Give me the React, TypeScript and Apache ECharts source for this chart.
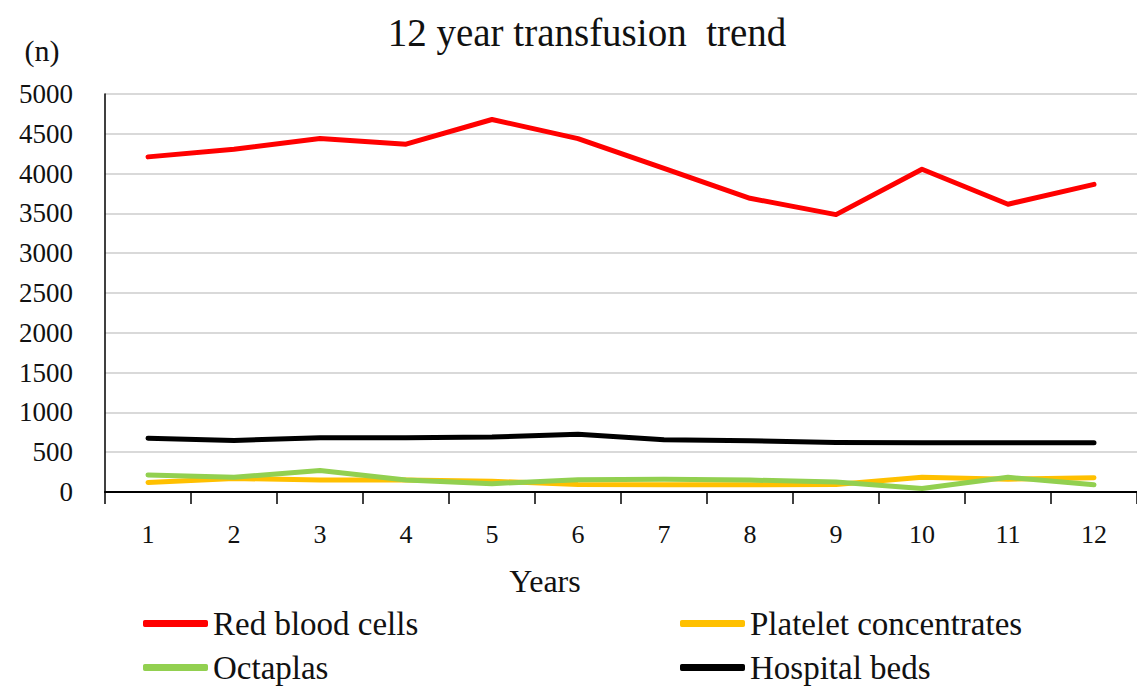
import React, { useEffect, useRef } from "react";
import * as echarts from "echarts";

const years = ["1", "2", "3", "4", "5", "6", "7", "8", "9", "10", "11", "12"];
const redBloodCells = [4210, 4305, 4440, 4370, 4680, 4440, 4065, 3690, 3485, 4055, 3615, 3865];
const plateletConcentrates = [120, 170, 150, 150, 135, 95, 90, 90, 95, 185, 160, 180];
const octaplas = [215, 185, 270, 150, 105, 155, 160, 150, 125, 45, 185, 90];
const hospitalBeds = [675, 648, 683, 683, 690, 725, 655, 645, 622, 620, 620, 620];
const yTicks = { min: 0, max: 5000, interval: 500 };
const legendNames = ["Red blood cells", "Octaplas", "Platelet concentrates", "Hospital beds"];

const FONT = "'Liberation Serif', 'Times New Roman', serif";

export default function App() {
  const ref = useRef<HTMLDivElement>(null);
  useEffect(() => {
    if (!ref.current) return;
    const chart = echarts.init(ref.current, undefined, { renderer: "svg" });
    const lineSeries = (name: string, data: number[], color: string) => ({
      name,
      type: "line",
      data,
      showSymbol: false,
      symbol: "none",
      lineStyle: { color, width: 5, cap: "round", join: "round" },
      itemStyle: { color },
    });
    const legendPos = [
      [143, 624],
      [143, 668],
      [680, 624],
      [680, 668],
    ];
    const legendItem = (name: string, i: number) => ({
      orient: "horizontal",
      left: legendPos[i][0],
      top: legendPos[i][1] - 4,
      padding: 0,
      itemWidth: 65,
      itemHeight: 7,
      icon: "roundRect",
      formatter: () => "",
      data: [name],
      textStyle: { fontSize: 1 },
    });
    const legendLabel = (name: string, i: number) => ({
      type: "text",
      x: legendPos[i][0] + 70,
      y: legendPos[i][1],
      style: {
        text: name,
        font: `33px ${FONT}`,
        fill: "#111",
        textAlign: "left",
        textVerticalAlign: "middle",
      },
    });
    chart.setOption({
      animation: false,
      backgroundColor: "#ffffff",
      textStyle: { fontFamily: FONT },
      grid: { left: 105, top: 94, width: 1044, height: 398 },
      xAxis: {
        type: "category",
        data: years,
        boundaryGap: true,
        axisLine: { show: true, lineStyle: { color: "#000", width: 2 } },
        axisTick: { show: true, length: 12, lineStyle: { color: "#000", width: 1.5 } },
        axisLabel: { fontFamily: FONT, fontSize: 26, color: "#111", margin: 29 },
        splitLine: { show: false },
      },
      yAxis: {
        type: "value",
        min: yTicks.min,
        max: yTicks.max,
        interval: yTicks.interval,
        axisLine: { show: true, lineStyle: { color: "#000", width: 1.5 } },
        axisTick: { show: false },
        axisLabel: {
          fontFamily: FONT,
          fontSize: 27,
          color: "#111",
          margin: 32,
          formatter: (v: number) => String(v),
        },
        splitLine: { show: true, lineStyle: { color: "#d9d9d9", width: 2 } },
      },
      legend: legendNames.map((n, i) => legendItem(n, i)),
      graphic: [
        {
          type: "text",
          x: 587,
          y: 32,
          style: {
            text: "12 year transfusion  trend",
            font: `39px ${FONT}`,
            fill: "#111",
            textAlign: "center",
            textVerticalAlign: "middle",
          },
        },
        {
          type: "text",
          x: 42,
          y: 50,
          style: {
            text: "(n)",
            font: `30px ${FONT}`,
            fill: "#111",
            textAlign: "center",
            textVerticalAlign: "middle",
          },
        },
        {
          type: "text",
          x: 545,
          y: 581,
          style: {
            text: "Years",
            font: `32px ${FONT}`,
            fill: "#111",
            textAlign: "center",
            textVerticalAlign: "middle",
          },
        },
        ...legendNames.map((n, i) => legendLabel(n, i)),
      ],
      series: [
        lineSeries("Red blood cells", redBloodCells, "#ff0000"),
        lineSeries("Platelet concentrates", plateletConcentrates, "#ffc000"),
        lineSeries("Octaplas", octaplas, "#92d050"),
        lineSeries("Hospital beds", hospitalBeds, "#000000"),
      ],
    });
    return () => chart.dispose();
  }, []);
  return (
    <div
      ref={ref}
      style={{ position: "fixed", left: 0, top: 0, width: 1137, height: 686, background: "#fff" }}
    />
  );
}
